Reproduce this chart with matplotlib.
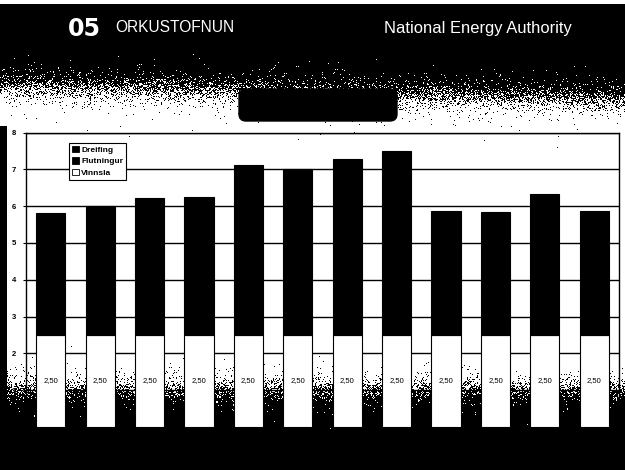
import numpy as np
import matplotlib
matplotlib.use("Agg")
import matplotlib.pyplot as plt
from matplotlib.patches import FancyBboxPatch, Patch

# --- data -------------------------------------------------------------
positions = list(range(1, 13))
vinnsla = [2.50] * 12
flutningur = [0.97, 0.97, 1.05, 1.05, 1.20, 1.20, 1.20, 1.20, 0.97, 0.97, 1.05, 0.97]
dreifing = [2.35, 2.53, 2.67, 2.69, 3.42, 3.30, 3.59, 3.80, 2.39, 2.38, 2.77, 2.40]
series_names = ["Vinnsla", "Flutningur", "Dreifing"]
y_ticks = [0, 1, 2, 3, 4, 5, 6, 7, 8]

W, H = 625, 470
fig = plt.figure(figsize=(W / 100, H / 100), dpi=100)
fig.patch.set_facecolor("white")

# --- slide background: black header/footer with a grainy fade ----------
bg = fig.add_axes([0, 0, 1, 1], zorder=0)
bg.set_xlim(0, W)
bg.set_ylim(H, 0)
bg.axis("off")

yy, xx = np.mgrid[0:H, 0:W].astype(float)
centre_top = 86 + 14 * (xx / W)
p_top = 1.0 / (1.0 + np.exp((yy - centre_top) / 5.5))
p_bot = 1.0 / (1.0 + np.exp(-(yy - 387) / 5.0))
p = np.maximum(p_top, p_bot)
p[yy < 4] = 0.0
p[(xx < 7) & (yy > 125)] = 1.0
grain = np.random.default_rng(7).random((H, W))
ink = (grain < p).astype(float)
bg.imshow(1 - ink, cmap="gray", vmin=0, vmax=1, extent=(0, W, H, 0),
          interpolation="nearest", aspect="auto")

# title plate
bg.add_patch(FancyBboxPatch((242, 92), 152, 26, boxstyle="round,pad=3,rounding_size=7",
                            fc="black", ec="black"))

# header texts
bg.text(68, 29, "05", color="white", fontsize=17, fontweight="heavy",
        family="DejaVu Sans", va="center", ha="left")
bg.text(115, 28, "ORKUSTOFNUN", color="white", fontsize=11.2,
        family="Liberation Sans", va="center", ha="left")
bg.text(384, 29, "National Energy Authority", color="white", fontsize=11.9,
        family="Liberation Sans", va="center", ha="left")

# --- stacked bar chart -------------------------------------------------
left, right, top, bottom = 26, 619, 132.5, 427
ax = fig.add_axes([left / W, 1 - bottom / H, (right - left) / W, (bottom - top) / H], zorder=2)
ax.set_facecolor("none")
ax.set_xlim(0.5, 12.5)
ax.set_ylim(0, 8)

bw = 0.59
v = np.array(vinnsla)
f = np.array(flutningur)
d = np.array(dreifing)
ax.bar(positions, v, bw, color="white", edgecolor="black", linewidth=0.8, zorder=3)
ax.bar(positions, f, bw, bottom=v, color="black", edgecolor="black", linewidth=0.8, zorder=3)
ax.bar(positions, d, bw, bottom=v + f, color="black", edgecolor="black", linewidth=0.8, zorder=3)

for x, val in zip(positions, vinnsla):
    ax.text(x, val / 2, f"{val:.2f}".replace(".", ","), ha="center", va="center",
            fontsize=5.5, family="Liberation Sans", color="black", zorder=4)

ax.set_yticks(y_ticks)
ax.set_yticklabels([str(t) for t in y_ticks], fontsize=5.5, fontweight="bold",
                   family="Liberation Sans")
ax.tick_params(axis="y", length=2, width=0.8, pad=5, colors="black")
ax.set_xticks([])
ax.yaxis.grid(True, color="black", linewidth=1.0)
ax.set_axisbelow(True)
for s in ax.spines.values():
    s.set_color("black")
    s.set_linewidth(1.0)

handles = [Patch(fc="black", ec="black", lw=0.6, label=series_names[2]),
           Patch(fc="black", ec="black", lw=0.6, label=series_names[1]),
           Patch(fc="white", ec="black", lw=0.6, label=series_names[0])]
leg = ax.legend(handles=handles, loc="upper left",
                bbox_to_anchor=((69 - left) / (right - left), (bottom - 143) / (bottom - top)),
                prop={"family": "Liberation Sans", "weight": "bold", "size": 6},
                frameon=True, fancybox=False, borderpad=0.35, handlelength=0.8,
                handleheight=0.8, handletextpad=0.3, labelspacing=0.4, borderaxespad=0)
leg.get_frame().set_edgecolor("black")
leg.get_frame().set_linewidth(0.8)
leg.get_frame().set_facecolor("white")
leg.get_frame().set_alpha(1)
leg.set_zorder(5)

fig.savefig("out.png", dpi=100, facecolor=fig.get_facecolor())
